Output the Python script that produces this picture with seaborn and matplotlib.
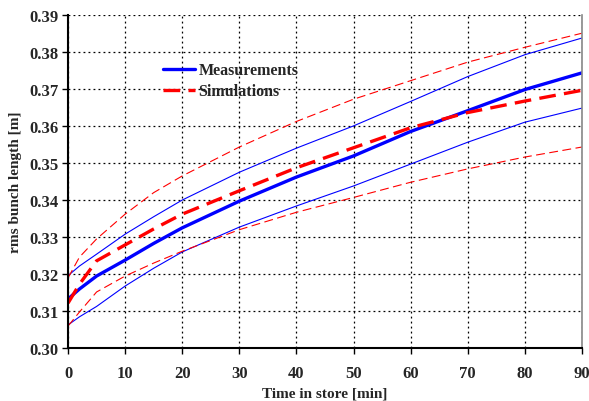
import numpy as np
import pandas as pd
import matplotlib
matplotlib.use("Agg")
import matplotlib.pyplot as plt
import seaborn as sns

# Data
time_min = [0, 2, 5, 10, 15, 20, 30, 40, 50, 60, 70, 80, 90]
meas = [0.3133, 0.3160, 0.3195, 0.3238, 0.3283, 0.3325, 0.3397, 0.3462, 0.3519, 0.3585, 0.3641, 0.3698, 0.3743]
meas_hi = [0.3196, 0.3222, 0.3254, 0.3308, 0.3355, 0.3400, 0.3475, 0.3540, 0.3600, 0.3666, 0.3733, 0.3792, 0.3837]
meas_lo = [0.3063, 0.3085, 0.3113, 0.3168, 0.3216, 0.3260, 0.3327, 0.3384, 0.3438, 0.3497, 0.3556, 0.3610, 0.3648]
sim = [0.3122, 0.3173, 0.3236, 0.3279, 0.3322, 0.3362, 0.3425, 0.3487, 0.3541, 0.3595, 0.3636, 0.3667, 0.3696]
sim_hi = [0.3190, 0.3246, 0.3295, 0.3362, 0.3420, 0.3465, 0.3543, 0.3612, 0.3672, 0.3722, 0.3772, 0.3812, 0.3850]
sim_lo = [0.3060, 0.3098, 0.3152, 0.3195, 0.3230, 0.3262, 0.3320, 0.3367, 0.3407, 0.3448, 0.3484, 0.3516, 0.3543]

x_ticks = [0, 10, 20, 30, 40, 50, 60, 70, 80, 90]
y_ticks = [0.30, 0.31, 0.32, 0.33, 0.34, 0.35, 0.36, 0.37, 0.38, 0.39]

sns.set_style("white")
plt.rcParams['font.family'] = ['Liberation Serif', 'DejaVu Serif']
plt.rcParams['font.weight'] = 'bold'

fig = plt.figure(figsize=(5.89, 4.02), dpi=100)
ax = fig.add_axes([0.1155, 0.131, 0.8725, 0.830])

blue = "#0000ff"
red = "#ff0000"

# Thin band lines first
sns.lineplot(x=time_min, y=meas_hi, ax=ax, color=blue, lw=0.8)
sns.lineplot(x=time_min, y=meas_lo, ax=ax, color=blue, lw=0.8)
sns.lineplot(x=time_min, y=sim_hi, ax=ax, color=red, lw=0.8)
ax.lines[-1].set_dashes([8, 4])
sns.lineplot(x=time_min, y=sim_lo, ax=ax, color=red, lw=0.8)
ax.lines[-1].set_dashes([8, 4])

# Main curves
sns.lineplot(x=time_min, y=meas, ax=ax, color=blue, lw=2.4, label="Measurements")
sns.lineplot(x=time_min, y=sim, ax=ax, color=red, lw=2.4, label="Simulations")
ax.lines[-1].set_dashes([5, 2.5])

ax.set_xlim(0, 90)
ax.set_ylim(0.30, 0.39)
ax.set_xticks(x_ticks)
ax.set_yticks(y_ticks)
ax.set_xticklabels([str(v) for v in x_ticks], fontsize=12, fontweight='bold')
ax.set_yticklabels([f"{v:.2f}" for v in y_ticks], fontsize=12, fontweight='bold')
ax.set_xlabel("Time in store [min]", fontsize=11, fontweight='bold', labelpad=4)
ax.set_ylabel("rms bunch length [m]", fontsize=11, fontweight='bold', labelpad=5)

ax.grid(True, color="black", linestyle=(0, (1.5, 2.5)), lw=0.9)
ax.tick_params(axis='both', direction='out', length=4, width=1, color='black', pad=3)
ax.tick_params(axis='x', bottom=True, pad=8)
ax.tick_params(axis='y', left=True)

for side in ['left', 'bottom']:
    ax.spines[side].set_color('black')
    ax.spines[side].set_linewidth(1.5)
ax.spines['right'].set_color('#888888')
ax.spines['right'].set_linewidth(1.2)
ax.spines['top'].set_visible(False)

leg = ax.legend(loc='upper left', bbox_to_anchor=(0.157, 0.90), frameon=False,
                handlelength=2.0, handletextpad=0.2, labelspacing=0.3,
                prop={'weight': 'bold', 'size': 11.5})

fig.savefig("out.png", dpi=100)
